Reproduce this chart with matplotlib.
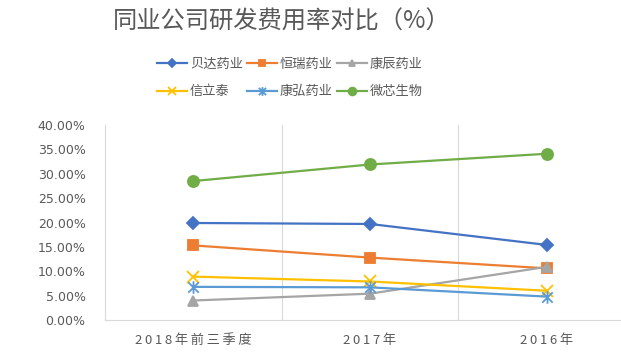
import matplotlib
matplotlib.use("Agg")
import matplotlib.pyplot as plt
from matplotlib.path import Path
import numpy as np

plt.rcParams['font.family'] = ['Noto Sans CJK SC', 'DejaVu Sans']

categories = ["2018年前三季度", "2017年", "2016年"]
series_names = ["贝达药业", "恒瑞药业", "康辰药业", "信立泰", "康弘药业", "微芯生物"]
beida = [19.9, 19.7, 15.4]
hengrui = [15.3, 12.8, 10.6]
kangchen = [4.0, 5.4, 10.9]
xinlitai = [8.9, 7.9, 6.0]
kanghong = [6.8, 6.7, 4.8]
weixin = [28.5, 31.9, 34.1]
y_ticks = [0, 5, 10, 15, 20, 25, 30, 35, 40]

star = Path([(-1, -1), (1, 1), (-1, 1), (1, -1), (0, -1.2), (0, 1.2)],
            [Path.MOVETO, Path.LINETO, Path.MOVETO, Path.LINETO, Path.MOVETO, Path.LINETO])

styles = [
    (beida, '#4472C4', 'D', 6),
    (hengrui, '#ED7D31', 's', 7),
    (kangchen, '#A5A5A5', '^', 7),
    (xinlitai, '#FFC000', 'x', 8),
    (kanghong, '#5B9BD5', star, 9),
    (weixin, '#70AD47', 'o', 8),
]

fig = plt.figure(figsize=(6.21, 3.54), dpi=100)
ax = fig.add_axes([105/621, (354-320)/354, 530/621, 195/354])
x = np.arange(len(categories))
handles = []
for (vals, c, m, ms), name in zip(styles, series_names):
    h, = ax.plot(x, vals, color=c, marker=m, markersize=ms, linewidth=1.6,
                 markeredgewidth=1.3, label=name, clip_on=False)
    handles.append(h)

ax.set_xlim(-0.5, 2.5)
ax.set_ylim(0, 40)
ax.set_yticks(y_ticks)
ax.set_yticklabels([f"{v:.2f}%" for v in y_ticks], fontsize=9, color='#595959',
                   family=['DejaVu Sans'])
ax.set_xticks(x)
ax.set_xticklabels(['\u2009'.join(c) for c in categories], fontsize=9.5, color='#595959')
ax.tick_params(axis='x', length=0, pad=10)
ax.tick_params(axis='y', length=0, pad=14)
for v in [0.5, 1.5]:
    ax.axvline(v, color='#D9D9D9', linewidth=0.8, zorder=0)
for s in ['top', 'right']:
    ax.spines[s].set_visible(False)
ax.spines['left'].set_color('#D9D9D9')
ax.spines['bottom'].set_color('#D9D9D9')

fig.text(0.453, 0.94, "同业公司研发费用率对比（%）", fontsize=17.5,
         color='#595959', ha='center', va='center', weight='medium')
order = [0, 3, 1, 4, 2, 5]
leg = fig.legend(handles=[handles[i] for i in order], ncol=3, loc='center',
                 bbox_to_anchor=(0.467, 0.78),
                 frameon=False, fontsize=9.5, handlelength=2.3, columnspacing=0.3,
                 handletextpad=0.2, labelspacing=1.1, labelcolor='#595959',
                 markerscale=0.7)
fig.savefig("out.png", dpi=100)
